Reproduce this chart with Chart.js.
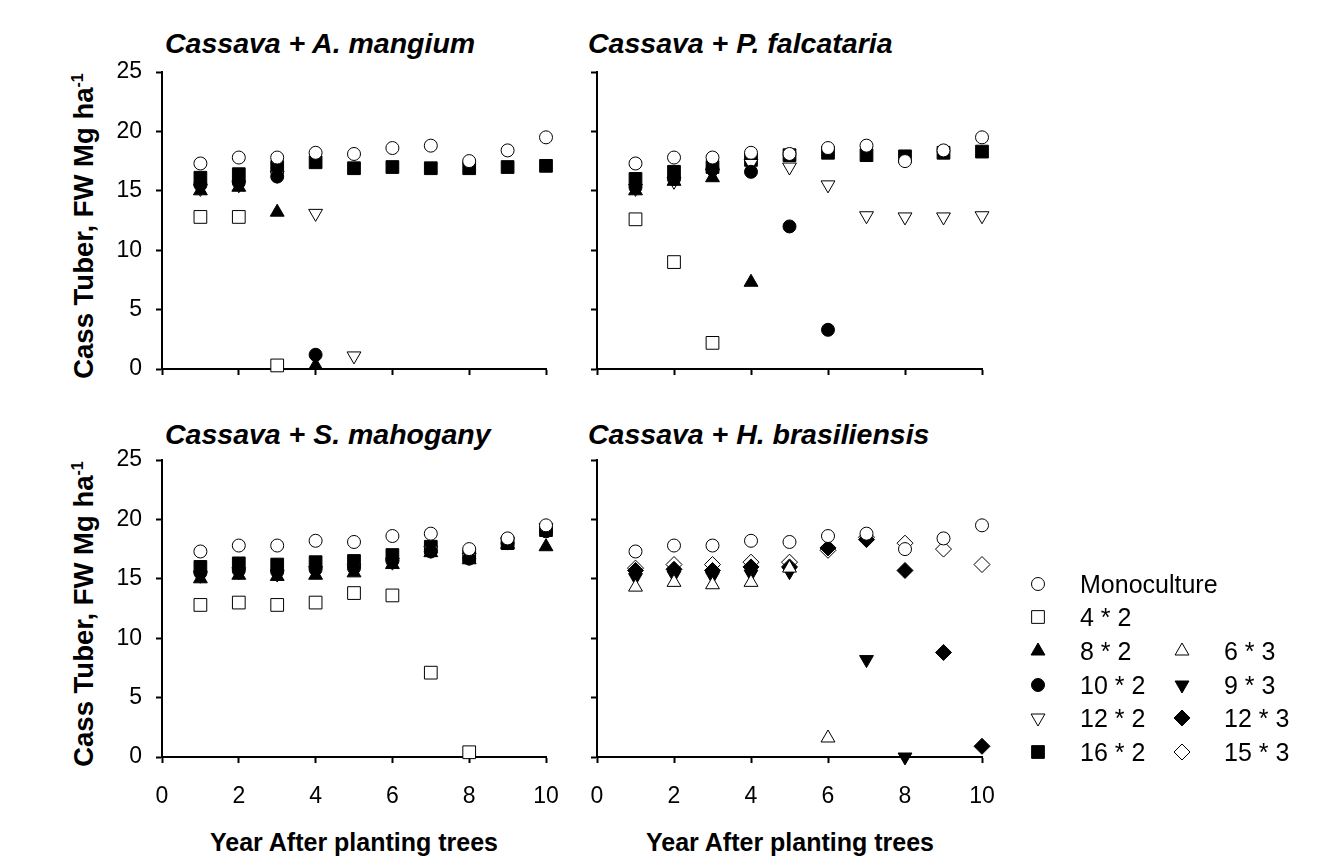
<!DOCTYPE html>
<html>
<head>
<meta charset="utf-8">
<script src="https://cdn.jsdelivr.net/npm/chart.js@4.4.1/dist/chart.umd.min.js"></script>
<style>
  body { margin: 0; background: #fff; width: 1337px; height: 858px; position: relative; overflow: hidden;
         font-family: "Liberation Sans", Arial, sans-serif; color: #000; }
  canvas { position: absolute; }
  .ptitle { position: absolute; font-weight: bold; font-style: italic; font-size: 28.5px; line-height: 1; white-space: nowrap; }
  .xtitle { position: absolute; font-weight: bold; font-size: 25px; line-height: 1; white-space: nowrap; width: 400px; text-align: center; }
  .ytitle { position: absolute; font-weight: bold; font-size: 27.5px; line-height: 28px; height: 28px; width: 400px;
            white-space: nowrap; text-align: center; transform: rotate(-90deg); }
  .ytitle sup { font-size: 16px; vertical-align: 10px; line-height: 0; }
  .leg { position: absolute; font-size: 25px; line-height: 1; white-space: nowrap; }
</style>
</head>
<body>

<div class="ptitle" style="left:165px; top:29px;">Cassava + A. mangium</div>
<div class="ptitle" style="left:588px; top:29px;">Cassava + P. falcataria</div>
<div class="ptitle" style="left:165px; top:420px;">Cassava + S. mahogany</div>
<div class="ptitle" style="left:588px; top:420px;">Cassava + H. brasiliensis</div>

<div class="ytitle" style="left:-116px; top:212px;">Cass Tuber, FW Mg ha<sup>-1</sup></div>
<div class="ytitle" style="left:-116px; top:600px;">Cass Tuber, FW Mg ha<sup>-1</sup></div>

<div class="xtitle" style="left:154px; top:830px;">Year After planting trees</div>
<div class="xtitle" style="left:590px; top:830px;">Year After planting trees</div>

<canvas id="tl" width="470" height="330" style="left:90px; top:60px;"></canvas>
<canvas id="tr" width="440" height="330" style="left:560px; top:60px;"></canvas>
<canvas id="bl" width="470" height="360" style="left:90px; top:448px;"></canvas>
<canvas id="br" width="440" height="360" style="left:560px; top:448px;"></canvas>
<canvas id="legend" width="300" height="210" style="left:1020px; top:565px;"></canvas>
<div id="legText"></div>

<script>
// years after planting trees
const years = [1, 2, 3, 4, 5, 6, 7, 8, 9, 10];

// monoculture cassava (same in every panel)
const monoculture = [17.3, 17.8, 17.8, 18.2, 18.1, 18.6, 18.8, 17.5, 18.4, 19.5];

// Cassava + A. mangium
const mangium_4x2  = [12.8, 12.8, 0.3];
const mangium_8x2  = [15.0, 15.3, 13.2, 0.3];
const mangium_10x2 = [15.5, 15.7, 16.2, 1.2];
const mangium_12x2 = [15.2, 15.5, 16.3, 13.1, 1.1];
const mangium_16x2 = [16.1, 16.4, 17.0, 17.4, 16.9, 17.0, 16.9, 16.9, 17.0, 17.1];

// Cassava + P. falcataria
const falcataria_4x2  = [12.6, 9.0, 2.2];
const falcataria_8x2  = [15.0, 15.8, 16.1, 7.3];
const falcataria_10x2 = [15.3, 16.0, 16.8, 16.6, 12.0, 3.3];
const falcataria_12x2 = [15.2, 15.8, 16.5, 17.3, 17.0, 15.5, 12.9, 12.8, 12.8, 12.9];
const falcataria_16x2 = [16.0, 16.6, 17.0, 17.6, 18.0, 18.2, 18.0, 17.9, 18.2, 18.3];

// Cassava + S. mahogany
const mahogany_4x2  = [12.8, 13.0, 12.8, 13.0, 13.8, 13.6, 7.1, 0.4];
const mahogany_8x2  = [15.0, 15.3, 15.2, 15.3, 15.5, 16.2, 17.2, 16.6, 17.9, 17.7];
const mahogany_10x2 = [15.5, 15.7, 15.6, 15.8, 15.9, 16.5, 17.3, 16.7, 18.0, 19.0];
const mahogany_12x2 = [15.3, 15.6, 15.4, 15.7, 15.9, 16.4, 17.4, 16.8, 18.1, 19.3];
const mahogany_16x2 = [16.0, 16.3, 16.2, 16.4, 16.5, 17.0, 17.7, 16.9, 18.0, 19.1];

// Cassava + H. brasiliensis
const brasiliensis_6x3  = [14.3, 14.7, 14.5, 14.7, 15.9, 1.6];
const brasiliensis_9x3  = [15.1, 15.3, 15.2, 15.4, 15.6, null, 8.2, 0.0];
const brasiliensis_12x3 = [15.7, 15.8, 15.7, 16.0, 16.0, 17.6, 18.3, 15.7, 8.8, 0.9];
const brasiliensis_15x3 = [15.9, 16.2, 16.2, 16.4, 16.4, 17.4, 18.5, 18.0, 17.5, 16.2];

// axes
const xMin = 0, xMax = 10, xStep = 2;
const yMin = 0, yMax = 25, yStep = 5;

// marker per treatment
const markers = {
  "Monoculture": { style: "circle",   rot: 0,   r: 6.5, filled: false },
  "4 * 2":       { style: "rect",     rot: 0,   r: 9,   filled: false },
  "8 * 2":       { style: "triangle", rot: 0,   r: 8,   filled: true  },
  "10 * 2":      { style: "circle",   rot: 0,   r: 6.5, filled: true  },
  "12 * 2":      { style: "triangle", rot: 180, r: 8,   filled: false },
  "16 * 2":      { style: "rect",     rot: 0,   r: 9,   filled: true  },
  "6 * 3":       { style: "triangle", rot: 0,   r: 8,   filled: false },
  "9 * 3":       { style: "triangle", rot: 180, r: 8,   filled: true  },
  "12 * 3":      { style: "rectRot",  rot: 0,   r: 8,   filled: true  },
  "15 * 3":      { style: "rectRot",  rot: 0,   r: 8,   filled: false }
};

const FONT = "'Liberation Sans', Arial, sans-serif";

function points(values) {
  const out = [];
  values.forEach((v, i) => { if (v !== null && v !== undefined) out.push({ x: years[i], y: v }); });
  return out;
}

function dataset(name, values) {
  const m = markers[name];
  return {
    label: name,
    data: points(values),
    pointStyle: m.style,
    rotation: m.rot,
    pointRadius: m.r,
    pointHoverRadius: m.r,
    pointBorderWidth: 1,
    pointBorderColor: "#000",
    pointBackgroundColor: m.filled ? "#000" : "#fff",
    showLine: false,
    clip: false
  };
}

function makeChart(id, series, yWidth, xHeight, padRight, showX, showY) {
  new Chart(document.getElementById(id), {
    type: "scatter",
    data: { datasets: series },
    options: {
      responsive: false,
      animation: false,
      events: [],
      layout: { padding: { top: 12, right: padRight, left: 0, bottom: 0 } },
      plugins: { legend: { display: false }, tooltip: { enabled: false } },
      scales: {
        x: {
          type: "linear", min: xMin, max: xMax,
          afterFit: (s) => { s.height = xHeight; s.paddingLeft = 0; s.paddingRight = 0; },
          border: { display: true, color: "#000", width: 2 },
          grid: { drawOnChartArea: false, drawTicks: true, tickLength: 6, tickColor: "#000", tickWidth: 2 },
          ticks: { display: showX, stepSize: xStep, color: "#000", padding: 20, maxRotation: 0,
                   font: { family: FONT, size: 23 } }
        },
        y: {
          type: "linear", min: yMin, max: yMax,
          afterFit: (s) => { s.width = yWidth; s.paddingTop = 0; s.paddingBottom = 0; },
          border: { display: true, color: "#000", width: 2 },
          grid: { drawOnChartArea: false, drawTicks: true, tickLength: 6, tickColor: "#000", tickWidth: 2 },
          ticks: { display: showY, stepSize: yStep, color: "#000", padding: 14,
                   font: { family: FONT, size: 23 } }
        }
      }
    }
  });
}

makeChart("tl", [
  dataset("Monoculture", monoculture),
  dataset("4 * 2", mangium_4x2),
  dataset("8 * 2", mangium_8x2),
  dataset("10 * 2", mangium_10x2),
  dataset("12 * 2", mangium_12x2),
  dataset("16 * 2", mangium_16x2)
], 72, 21, 14, false, true);

makeChart("tr", [
  dataset("Monoculture", monoculture),
  dataset("4 * 2", falcataria_4x2),
  dataset("8 * 2", falcataria_8x2),
  dataset("10 * 2", falcataria_10x2),
  dataset("12 * 2", falcataria_12x2),
  dataset("16 * 2", falcataria_16x2)
], 37, 21, 18, false, false);

makeChart("bl", [
  dataset("Monoculture", monoculture),
  dataset("4 * 2", mahogany_4x2),
  dataset("8 * 2", mahogany_8x2),
  dataset("10 * 2", mahogany_10x2),
  dataset("12 * 2", mahogany_12x2),
  dataset("16 * 2", mahogany_16x2)
], 72, 51, 14, true, true);

makeChart("br", [
  dataset("Monoculture", monoculture),
  dataset("6 * 3", brasiliensis_6x3),
  dataset("9 * 3", brasiliensis_9x3),
  dataset("12 * 3", brasiliensis_12x3),
  dataset("15 * 3", brasiliensis_15x3)
], 37, 51, 18, true, false);

// legend: two columns, markers drawn with Chart.js point helper
const legendCol1 = ["Monoculture", "4 * 2", "8 * 2", "10 * 2", "12 * 2", "16 * 2"];
const legendCol2 = [null, null, "6 * 3", "9 * 3", "12 * 3", "15 * 3"];
const legRowY = [19, 52, 86, 120, 153, 187];
const lctx = document.getElementById("legend").getContext("2d");
const legText = document.getElementById("legText");

function legendItem(name, mx, row) {
  if (!name) return;
  const m = markers[name];
  lctx.save();
  lctx.fillStyle = m.filled ? "#000" : "#fff";
  lctx.strokeStyle = "#000";
  lctx.lineWidth = 1;
  Chart.helpers.drawPoint(lctx, { pointStyle: m.style, rotation: m.rot, radius: m.r, borderWidth: 1 }, mx, legRowY[row]);
  lctx.restore();
  const d = document.createElement("div");
  d.className = "leg";
  d.textContent = name;
  d.style.left = (1020 + mx + 42) + "px";
  d.style.top = (565 + legRowY[row] - 12) + "px";
  legText.appendChild(d);
}
legendCol1.forEach((n, i) => legendItem(n, 18, i));
legendCol2.forEach((n, i) => legendItem(n, 162, i));
</script>
</body>
</html>
